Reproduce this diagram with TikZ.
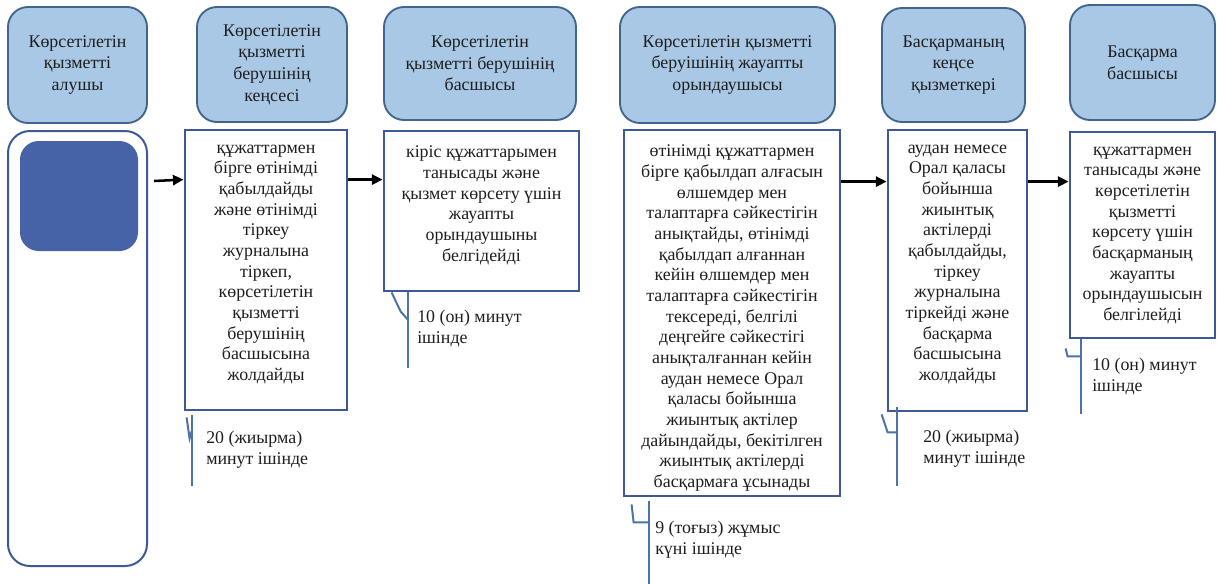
\documentclass[tikz,border=0pt]{standalone}
\usepackage{fontspec}
\setmainfont{Liberation Serif}
\usetikzlibrary{arrows.meta}
\definecolor{headfill}{HTML}{A9C8E6}
\definecolor{headline}{HTML}{41658C}
\definecolor{boxline}{HTML}{3D5A96}
\definecolor{clientfill}{HTML}{4563A6}
\definecolor{noteline}{HTML}{4C72A6}
\definecolor{ink}{HTML}{1E1E1E}

\begin{document}
\begin{tikzpicture}[x=0.75pt,y=-0.75pt,
        every node/.style={inner sep=0pt,text=ink},
        headbox/.style={draw=headline,fill=headfill,line width=1.4pt,rounded corners=15pt,
          align=center,font=\fontsize{13.4}{16.2}\selectfont},
        stepbox/.style={draw=boxline,line width=2.1pt},
        steptext/.style={anchor=north,align=center,yshift=-12pt,font=\fontsize{13.4}{15.5}\selectfont},
        flow/.style={-{Triangle[length=8pt,width=7.5pt]},line width=1.9pt},
        note/.style={draw=noteline,line width=1.5pt},
        notetext/.style={anchor=north west,align=left,font=\fontsize{13.4}{15.5}\selectfont}]
        \useasboundingbox (0,0) rectangle (1217,583);
        % header row
        \node[headbox,minimum width=104.25pt,minimum height=87pt] (recv) at (77.5,65) {Көрсетілетін\\қызметті\\алушы};
        \node[headbox,minimum width=112.5pt,minimum height=86.25pt] (office) at (272,64.5) {Көрсетілетін\\қызметті\\берушінің\\кеңсесі};
        \node[headbox,minimum width=144pt,minimum height=84.75pt] (chief) at (480,63.5) {Көрсетілетін\\қызметті берушінің\\басшысы};
        \node[headbox,minimum width=161.25pt,minimum height=87pt] (exec) at (727.5,65) {Көрсетілетін қызметті\\беруішінің жауапты\\орындаушысы};
        \node[headbox,minimum width=107.25pt,minimum height=85.5pt] (clerk) at (953.5,65) {Басқарманың\\кеңсе\\қызметкері};
        \node[headbox,minimum width=108.75pt,minimum height=86.25pt] (boss) at (1142.5,62.5) {Басқарма\\басшысы};
        % client column
        \node[draw=boxline,line width=1.5pt,rounded corners=16.5pt,minimum width=104.25pt,minimum height=326.25pt] (client) at (77.5,348.5) {};
        \node[fill=clientfill,rounded corners=14pt,minimum width=88.5pt,minimum height=82.5pt] (clientmark) at (79,196) {};
        % step boxes
        \node[stepbox,minimum width=121.5pt,minimum height=210pt] (stA) at (266,270) {};
        \node[steptext] (txA) at (stA.north) {құжаттармен\\бірге өтінімді\\қабылдайды\\және өтінімді\\тіркеу\\журналына\\тіркеп,\\көрсетілетін\\қызметті\\берушінің\\басшысына\\жолдайды};
        \node[stepbox,minimum width=146.25pt,minimum height=120pt] (stB) at (481.5,211) {};
        \node[steptext] (txB) at (stB.north) {кіріс құжаттарымен\\танысады және\\қызмет көрсету үшін\\жауапты\\орындаушыны\\белгідейді};
        \node[stepbox,minimum width=162pt,minimum height=274.5pt] (stC) at (732,313) {};
        \node[steptext] (txC) at (stC.north) {өтінімді құжаттармен\\бірге қабылдап алғасын\\өлшемдер мен\\талаптарға сәйкестігін\\анықтайды, өтінімді\\қабылдап алғаннан\\кейін өлшемдер мен\\талаптарға сәйкестігін\\тексереді, белгілі\\деңгейге сәйкестігі\\анықталғаннан кейін\\аудан немесе Орал\\қаласы бойынша\\жиынтық актілер\\дайындайды, бекітілген\\жиынтық актілерді\\басқармаға ұсынады};
        \node[stepbox,minimum width=104.25pt,minimum height=210.75pt] (stD) at (957.5,270.5) {};
        \node[steptext] (txD) at (stD.north) {аудан немесе\\Орал қаласы\\бойынша\\жиынтық\\актілерді\\қабылдайды,\\тіркеу\\журналына\\тіркейді және\\басқарма\\басшысына\\жолдайды};
        \node[stepbox,minimum width=108.75pt,minimum height=154.5pt] (stE) at (1142.5,235) {};
        \node[steptext] (txE) at (stE.north) {құжаттармен\\танысады және\\көрсетілетін\\қызметті\\көрсету үшін\\басқарманың\\жауапты\\орындаушысын\\белгілейді};
        % arrows
        \draw[flow] ([shift={(6,51)}]client.north east) -- ([yshift=-38.25pt]stA.north west);
        \draw[flow] ([yshift=-38.25pt]stA.north east) -- ([yshift=-37.5pt]stB.north west);
        \draw[flow] ([yshift=-39.75pt]stC.north east) -- ([yshift=-39.75pt]stD.north west);
        \draw[flow] ([yshift=-39.75pt]stD.north east) -- ([yshift=-38.25pt]stE.north west);
        % time notes
        \draw[note] ([shift={(3,6)}]stA.south west) -- ([shift={(6,27)}]stA.south west) -- ([shift={(8,20)}]stA.south west);
        \draw[note] ([shift={(8,4)}]stA.south west) -- ([shift={(8,75)}]stA.south west);
        \node[notetext] (tmA) at (206,431) {20 (жиырма)\\минут ішінде};
        \draw[note] ([shift={(9,0)}]stB.south west) -- ([shift={(18,19)}]stB.south west) -- ([shift={(25,27)}]stB.south west);
        \draw[note] ([shift={(25,0)}]stB.south west) -- ([shift={(25,76)}]stB.south west);
        \node[notetext] (tmB) at (417,310) {10 (он) минут\\ішінде};
        \draw[note] ([shift={(9,7)}]stC.south west) -- ([shift={(11,25)}]stC.south west) -- ([shift={(26,25)}]stC.south west);
        \draw[note] ([shift={(26,4)}]stC.south west) -- ([shift={(26,87)}]stC.south west);
        \node[notetext] (tmC) at (655,521) {9 (тоғыз) жұмыс\\күні ішінде};
        \draw[note] ([shift={(-5,2)}]stD.south west) -- ([shift={(1,20)}]stD.south west) -- ([shift={(10,20)}]stD.south west);
        \draw[note] ([shift={(10,-5)}]stD.south west) -- ([shift={(10,74)}]stD.south west);
        \node[notetext] (tmD) at (923,430) {20 (жиырма)\\минут ішінде};
        \draw[note] ([shift={(-3,9)}]stE.south west) -- ([shift={(-1,17)}]stE.south west) -- ([shift={(12,17)}]stE.south west);
        \draw[note] ([shift={(12,0)}]stE.south west) -- ([shift={(12,75)}]stE.south west);
        \node[notetext] (tmE) at (1092,358) {10 (он) минут\\ішінде};
\end{tikzpicture}
\end{document}
